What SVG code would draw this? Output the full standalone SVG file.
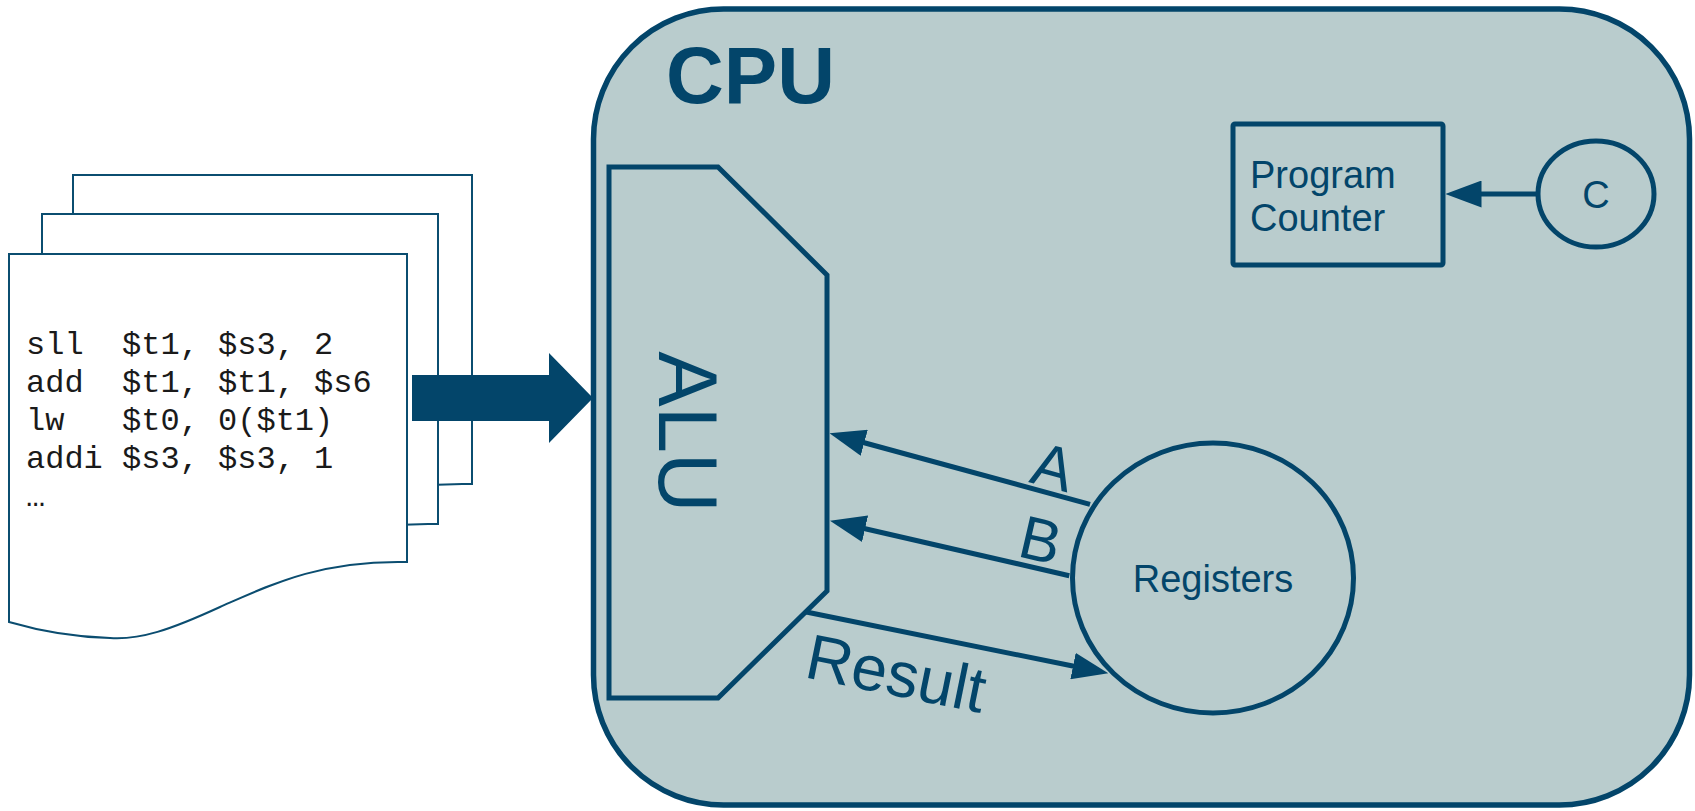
<svg xmlns="http://www.w3.org/2000/svg" width="1695" height="811" viewBox="0 0 1695 811">
  <defs>
    <style>
      .page { fill: #ffffff; stroke: #0b4d70; stroke-width: 2; stroke-linejoin: miter; }
      .code { font-family: "Liberation Mono", "Courier New", monospace; font-size: 32px; fill: #1a1a1a; }
      .edge { fill: none; stroke: #03456a; stroke-width: 5; }
      .shape { fill: none; stroke: #03456a; stroke-width: 5; }
      .label { font-family: "Liberation Sans", Arial, sans-serif; fill: #03456a; }
    </style>
    <marker id="head" viewBox="0 -13.5 36 27" refX="1" refY="0" markerWidth="36" markerHeight="27" markerUnits="userSpaceOnUse" orient="auto">
      <path d="M0,-13.5 L36,0 L0,13.5 Z" fill="#03456a"/>
    </marker>
  </defs>

  <!-- stack of program listing pages -->
  <g id="program-pages">
    <path class="page" d="M73,175 H472 V484 C386,482 334,506 284,528 C234,551 204,561 174,559 C134,558 104,552 73,543 Z"/>
    <path class="page" d="M42,214 H438 V524 C352,522 303,545 253,567 C203,590 173,600 143,598 C103,597 73,591 42,582 Z"/>
    <path class="page" d="M9,254 H407 V562 C320,560 270,585 220,607 C170,630 140,640 110,638 C70,637 40,631 9,622 Z"/>
    <text class="code" xml:space="preserve"><tspan x="26" y="354">sll  $t1, $s3, 2</tspan><tspan x="26" y="392">add  $t1, $t1, $s6</tspan><tspan x="26" y="430">lw   $t0, 0($t1)</tspan><tspan x="26" y="468">addi $s3, $s3, 1</tspan><tspan x="26" y="506">…</tspan></text>
  </g>

  <!-- instruction feed into the CPU -->
  <g id="feed-arrow">
    <polygon points="412,375 549,375 549,353 593,398 549,443 549,421 412,421" fill="#03456a"/>
  </g>

  <!-- CPU enclosure -->
  <g id="cpu">
    <rect x="593.5" y="9" width="1096" height="796" rx="130" ry="130" fill="#b9cccd" stroke="#03456a" stroke-width="5.5"/>
    <text class="label" x="666" y="103" font-size="80" font-weight="bold">CPU</text>
  </g>

  <!-- ALU -->
  <g id="alu">
    <polygon class="shape" points="609,167 718,167 827,275 827,591 718,698 609,698" stroke-linejoin="miter"/>
    <text class="label" font-size="83" text-anchor="middle" transform="translate(659,432) rotate(90)">ALU</text>
  </g>

  <!-- Program counter -->
  <g id="program-counter">
    <rect class="shape" x="1233" y="124" width="210" height="141" rx="2"/>
    <text class="label" font-size="38"><tspan x="1250" y="188">Program</tspan><tspan x="1250" y="231">Counter</tspan></text>
  </g>

  <!-- Clock -->
  <g id="clock">
    <ellipse class="shape" cx="1596" cy="194" rx="58" ry="53"/>
    <text class="label" x="1596" y="208" font-size="38" text-anchor="middle">C</text>
  </g>

  <!-- Register file -->
  <g id="registers">
    <ellipse class="shape" cx="1213" cy="578" rx="140.5" ry="135"/>
    <text class="label" x="1213" y="592" font-size="38" text-anchor="middle">Registers</text>
  </g>

  <!-- data paths -->
  <g id="connectors">
    <line class="edge" x1="1538" y1="194" x2="1480.5" y2="194" marker-end="url(#head)"/>
    <line class="edge" x1="1090" y1="504.3" x2="863.3" y2="442.5" marker-end="url(#head)"/>
    <line class="edge" x1="1069.3" y1="575.7" x2="864.1" y2="528.5" marker-end="url(#head)"/>
    <line class="edge" x1="805" y1="611.7" x2="1074" y2="666.3" marker-end="url(#head)"/>
    <text class="label" x="1028" y="482" font-size="61" transform="rotate(15 1028 482)">A</text>
    <text class="label" x="1016" y="556" font-size="61" transform="rotate(13 1016 556)">B</text>
    <text class="label" x="803" y="677" font-size="64" transform="rotate(11.5 803 677)">Result</text>
  </g>
</svg>
